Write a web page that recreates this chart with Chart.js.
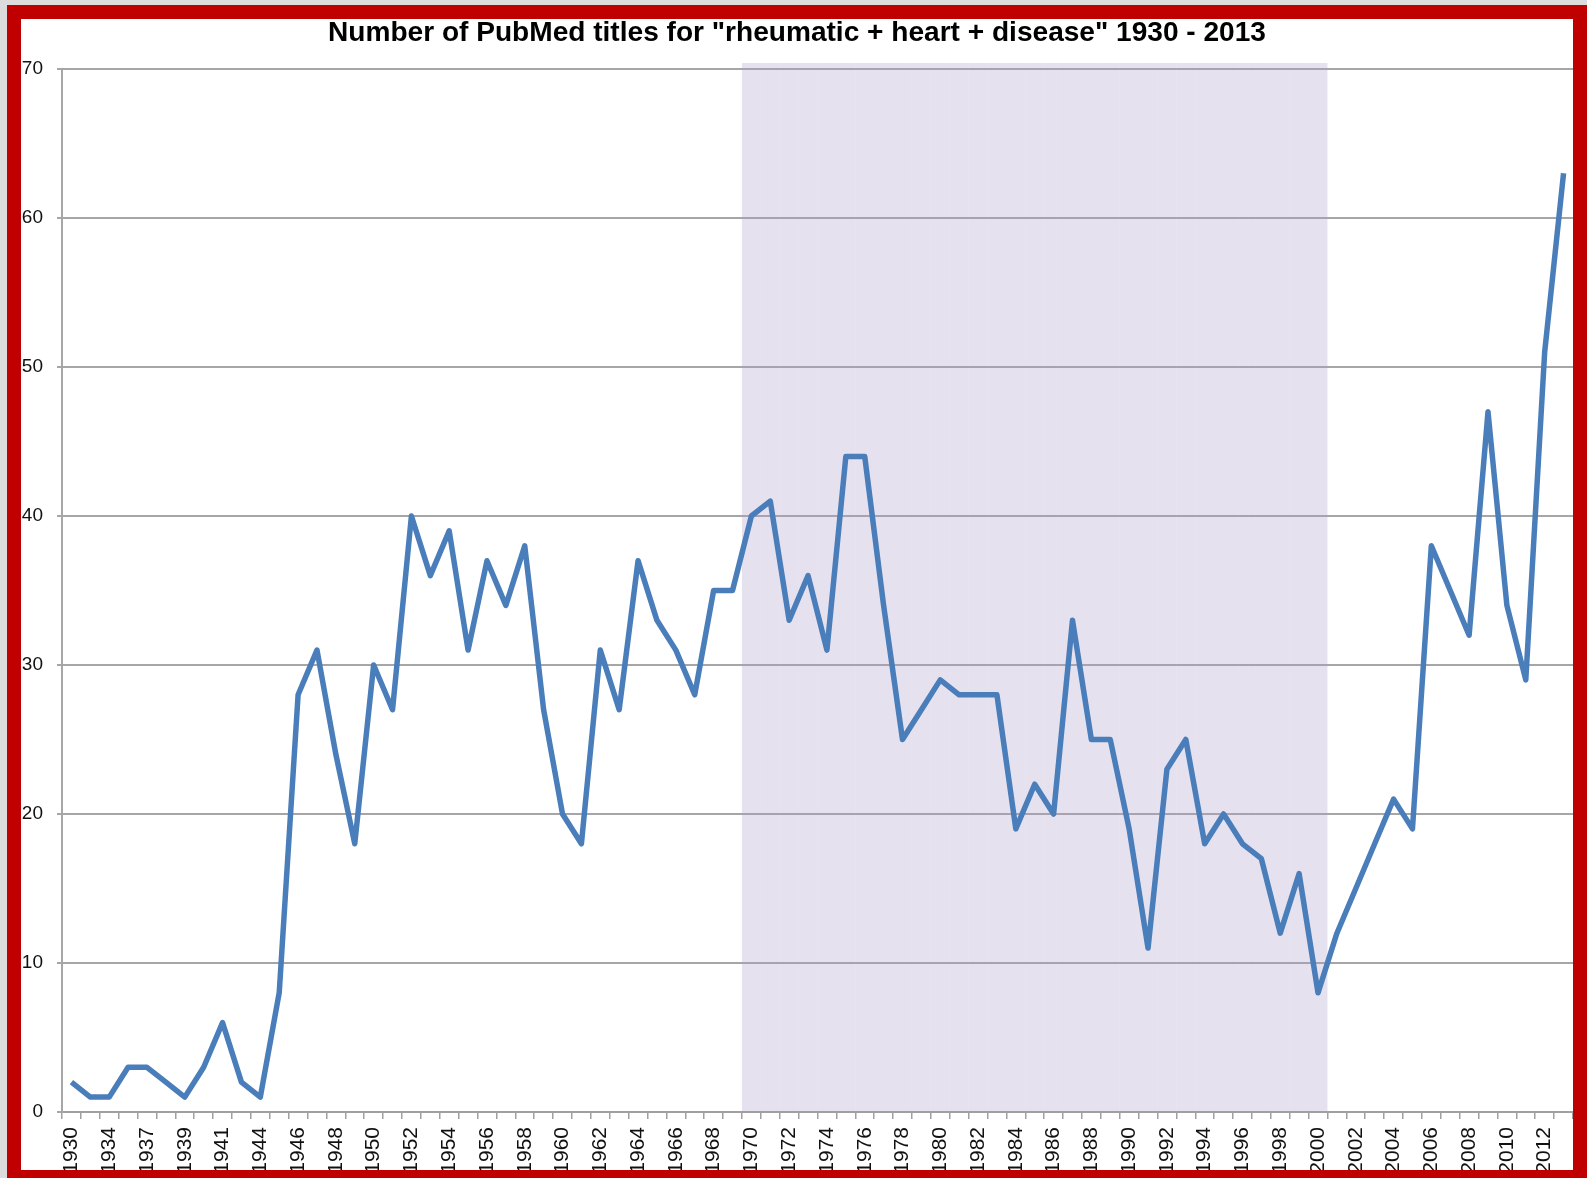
<!DOCTYPE html>
<html>
<head>
<meta charset="utf-8">
<script src="https://cdn.jsdelivr.net/npm/chart.js@4.4.1/dist/chart.umd.min.js"></script>
<style>
html,body{margin:0;padding:0;background:#dcdcdc;overflow:hidden;width:1587px;height:1178px;}
#frame{position:absolute;left:7px;top:5px;width:1552px;height:1151px;border:14px solid #c00000;background:#ffffff;}
canvas{display:block;}
</style>
</head>
<body>
<div id="frame"><canvas id="c" width="1552" height="1151"></canvas></div>
<script>
// ---- data ----
const years = [
  '1930','1932','1934','1936','1937','1938','1939','1940','1941','1943','1944','1945',
  '1946','1947','1948','1949','1950','1951','1952','1953','1954','1955','1956','1957',
  '1958','1959','1960','1961','1962','1963','1964','1965','1966','1967','1968','1969',
  '1970','1971','1972','1973','1974','1975','1976','1977','1978','1979','1980','1981',
  '1982','1983','1984','1985','1986','1987','1988','1989','1990','1991','1992','1993',
  '1994','1995','1996','1997','1998','1999','2000','2001','2002','2003','2004','2005',
  '2006','2007','2008','2009','2010','2011','2012','2013'
];
const titleCounts = [
  2,1,1,3,3,2,1,3,6,2,1,8,
  28,31,24,18,30,27,40,36,39,31,37,34,
  38,27,20,18,31,27,37,33,31,28,35,35,
  40,41,33,36,31,44,44,34,25,27,29,28,
  28,28,19,22,20,33,25,25,19,11,23,25,
  18,20,18,17,12,16,8,12,15,18,21,19,
  38,35,32,47,34,29,51,63
];
const yTicks = [0,10,20,30,40,50,60,70];
const shadeFrom = '1970';
const shadeTo = '2000';
const shadeTop = 70.4;
const chartTitle = 'Number of PubMed titles for "rheumatic + heart + disease" 1930 - 2013';

// ---- build ----
const iFrom = years.indexOf(shadeFrom), iTo = years.indexOf(shadeTo);
const shadeData = years.map((y, i) => (i >= iFrom && i <= iTo) ? shadeTop : null);

function pickTitleFont() {
  const ctx = document.createElement('canvas').getContext('2d');
  const t = 'Number of PubMed titles';
  ctx.font = 'bold 30px monospace';
  const w0 = ctx.measureText(t).width;
  ctx.font = 'bold 30px "Liberation Sans Narrow", monospace';
  const w1 = ctx.measureText(t).width;
  const fam = (Math.abs(w1 - w0) > 0.5) ? '"Liberation Sans Narrow", "Liberation Sans", sans-serif' : '"Liberation Sans", sans-serif';
  ctx.font = 'bold 30px ' + fam;
  const w = ctx.measureText(chartTitle).width;
  const size = Math.min(30, 30 * 938 / w);
  return { fam, size };
}
const tf = pickTitleFont();
const titleTop = Math.max(0, 13.5 - tf.size / 2);
const titleBottom = 50 - tf.size - titleTop;

new Chart(document.getElementById('c'), {
  type: 'line',
  data: {
    labels: years,
    datasets: [
      {
        type: 'line',
        data: titleCounts,
        borderColor: '#4a7ebb',
        borderWidth: 5.5,
        pointRadius: 0,
        pointHoverRadius: 0,
        tension: 0,
        fill: false,
        borderJoinStyle: 'round',
        order: 1
      },
      {
        type: 'bar',
        data: shadeData,
        backgroundColor: 'rgba(172,155,202,0.3)',
        borderWidth: 0,
        inflateAmount: 0,
        barPercentage: 1,
        categoryPercentage: 1,
        clip: false,
        order: 2
      }
    ]
  },
  options: {
    responsive: false,
    animation: false,
    devicePixelRatio: 1,
    layout: { padding: 0 },
    plugins: {
      legend: { display: false },
      tooltip: { enabled: false },
      title: {
        display: true,
        text: chartTitle,
        color: '#000000',
        font: { family: tf.fam, size: tf.size, weight: 'bold', lineHeight: 1 },
        padding: { top: titleTop, bottom: titleBottom }
      }
    },
    scales: {
      x: {
        type: 'category',
        offset: true,
        grid: {
          display: true,
          offset: true,
          drawOnChartArea: false,
          drawTicks: true,
          tickLength: 7,
          color: '#a0a0a0',
          lineWidth: 1.5
        },
        border: { display: true, color: '#a0a0a0', width: 2 },
        ticks: {
          autoSkip: false,
          maxRotation: 90,
          minRotation: 90,
          padding: 8,
          color: '#111111',
          font: { family: '"Liberation Sans", Arial, sans-serif', size: 21 },
          callback: function (v, i) { return i % 2 === 0 ? this.getLabelForValue(v) : ''; }
        },
        afterFit: function (s) { s.height = 58; s.paddingLeft = 0; s.paddingRight = 0; }
      },
      y: {
        min: 0,
        max: 70,
        afterBuildTicks: function (s) { s.ticks = yTicks.map(v => ({ value: v })); },
        grid: {
          display: true,
          color: '#a6a6a6',
          lineWidth: 2,
          drawTicks: true,
          tickLength: 5
        },
        border: { display: true, color: '#a6a6a6', width: 2 },
        ticks: {
          padding: 14,
          color: '#111111',
          font: { family: '"Liberation Sans", Arial, sans-serif', size: 19 }
        },
        afterFit: function (s) { s.width = 41; }
      }
    }
  }
});
</script>
</body>
</html>
